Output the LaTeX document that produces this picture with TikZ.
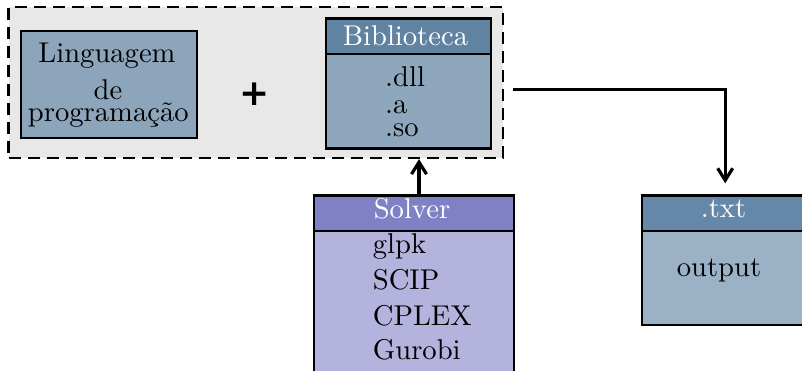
\documentclass[tikz,border=0pt]{standalone}
\usepackage{fontspec}
\setmainfont{lmroman10-regular.otf}[BoldFont=lmroman10-bold.otf]
\newfontfamily\plusfont{DejaVu Sans}
\usetikzlibrary{arrows.meta}
\definecolor{langcol}{HTML}{8DA5BB}
\definecolor{bibheadcol}{HTML}{5F83A1}
\definecolor{bibbodycol}{HTML}{8FA7BD}
\definecolor{solheadcol}{HTML}{8080C4}
\definecolor{solbodycol}{HTML}{B3B3DD}
\definecolor{txtheadcol}{HTML}{6688A8}
\definecolor{txtbodycol}{HTML}{9BB1C6}
\definecolor{grpcol}{HTML}{E8E8E8}
\begin{document}
\begin{tikzpicture}[x=1pt,y=-1pt,
  box/.style={draw=black, line width=2.4pt, rectangle, inner sep=0pt, anchor=north west},
  lbl/.style={font=\fontsize{28.6}{34}\selectfont, inner sep=0pt, anchor=base},
  lbll/.style={lbl, anchor=base west},
  hdr/.style={lbl, text=white},
  arr/.style={line width=3.2pt, -{Straight Barb[length=12pt,width=15pt]}}
]
\path[use as bounding box, clip] (0,0) rectangle (802,370);
% group background
\node[box, fill=grpcol, dash pattern=on 12pt off 7pt, minimum width=494.4pt, minimum height=150.7pt] (grp) at (7.3,6) {};
% boxes
\node[box, fill=langcol, minimum width=176.5pt, minimum height=107pt] (lang) at (19.5,29.5) {};
\node[box, fill=bibbodycol, minimum width=165.3pt, minimum height=94.6pt] (bibb) at (324.7,52.7) {};
\node[box, fill=bibheadcol, minimum width=165.3pt, minimum height=35.4pt] (bibh) at (324.7,17.3) {};
\node[box, fill=solbodycol, minimum width=200pt, minimum height=180pt] (solb) at (312.7,230) {};
\node[box, fill=solheadcol, minimum width=200pt, minimum height=35.7pt] (solh) at (312.7,194.3) {};
\node[box, fill=txtbodycol, minimum width=166pt, minimum height=94pt] (txtb) at (641,230) {};
\node[box, fill=txtheadcol, minimum width=166pt, minimum height=35.7pt] (txth) at (641,194.3) {};
% texts
\node[lbl] (l1) at (107,62.7) {Linguagem};
\node[lbl] (l2) at (108,99.3) {de};
\node[lbl] (l3) at (108.3,121.7) {programação};
\node[inner sep=0pt] (plus) at (255,94) {\plusfont\bfseries\fontsize{36}{36}\selectfont +};
\node[hdr] (bt) at (405.5,45.7) {Biblioteca};
\node[lbll] (b1) at (385,86.7) {.dll};
\node[lbll] (b2) at (385,113.3) {.a};
\node[lbll] (b3) at (385,136.7) {.so};
\node[hdr] (st) at (412,218.3) {Solver};
\node[lbll] (s1) at (372.7,253.3) {glpk};
\node[lbll] (s2) at (372.7,289) {SCIP};
\node[lbll] (s3) at (372.7,325) {CPLEX};
\node[lbll] (s4) at (372.7,359) {Gurobi};
\node[hdr] (tt) at (723.5,217.3) {.txt};
\node[lbl] (to) at (719,276.7) {output};
% arrows
\coordinate (sarr) at (419,0);
\draw[arr] (solh.north -| sarr) -- (grp.south -| sarr);
\coordinate (oarr) at (513,89.3);
\draw[arr, shorten >=11pt] (oarr) -| (txth.north);
\end{tikzpicture}
\end{document}
